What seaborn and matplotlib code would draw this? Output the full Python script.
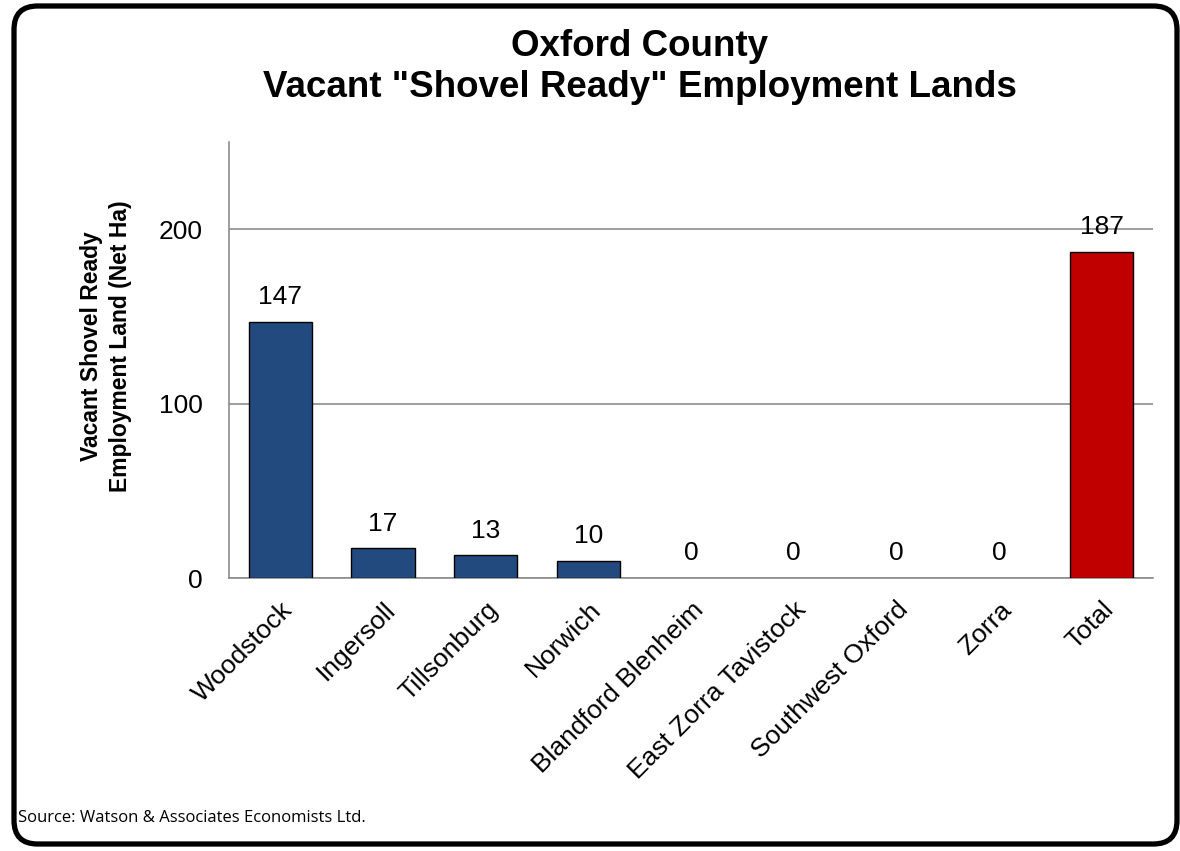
import matplotlib
matplotlib.use("Agg")
import matplotlib.pyplot as plt
from matplotlib.patches import FancyBboxPatch
import seaborn as sns
import pandas as pd

categories = ["Woodstock", "Ingersoll", "Tillsonburg", "Norwich", "Blandford Blenheim",
              "East Zorra Tavistock", "Southwest Oxford", "Zorra", "Total"]
values = [147, 17, 13, 10, 0, 0, 0, 0, 187]
bar_colors = ["#234A7E"] * 8 + ["#C00000"]
y_ticks = [0, 100, 200]

sns.set_theme(style="white")
plt.rcParams["font.family"] = ["Liberation Sans", "DejaVu Sans"]
plt.rcParams["text.color"] = "black"
plt.rcParams["xtick.color"] = "black"
plt.rcParams["ytick.color"] = "black"

df = pd.DataFrame({"area": categories, "ha": values})

fig = plt.figure(figsize=(11.8, 8.51), dpi=100)
ax = fig.add_axes([229 / 1180, 1 - 578 / 851, (1153 - 229) / 1180, (578 - 142) / 851])

sns.barplot(data=df, x="area", y="ha", hue="area", palette=bar_colors, legend=False,
            saturation=1, width=0.62, edgecolor="black", linewidth=1.0, ax=ax, zorder=3)

# bars with no land carry no visible outline
for patch in ax.patches:
    if patch.get_height() == 0:
        patch.set_linewidth(0)

ax.set_ylim(0, 250)
ax.set_xlim(-0.5, len(categories) - 0.5)
ax.set_yticks(y_ticks)
ax.set_yticklabels([str(t) for t in y_ticks], fontsize=19)
ax.yaxis.grid(True, color="#8C8C8C", linewidth=1.2, zorder=0)
ax.set_axisbelow(True)

# category boundary ticks on the x axis
ax.set_xticks([i - 0.5 for i in range(len(categories) + 1)], minor=True)
ax.tick_params(axis="x", which="minor", length=7, width=1.2, color="#8C8C8C", direction="out")
ax.tick_params(axis="x", which="major", length=0, pad=14)
ax.tick_params(axis="y", which="major", length=7, width=1.2, color="#8C8C8C", direction="out", pad=12)
ax.set_xticks(range(len(categories)))
ax.set_xticklabels(categories, rotation=45, ha="right", va="top", rotation_mode="anchor", fontsize=19)

for side in ["top", "right"]:
    ax.spines[side].set_visible(False)
for side in ["left", "bottom"]:
    ax.spines[side].set_color("#8C8C8C")
    ax.spines[side].set_linewidth(1.2)

for i, v in enumerate(values):
    ax.annotate(f"{v}", xy=(i, v), xytext=(0, 9), textcoords="offset points",
                ha="center", va="bottom", fontsize=19, color="black", zorder=4)

ax.set_xlabel("")
ax.set_ylabel("")
fig.text(106 / 1180, 1 - 346 / 851, "Vacant Shovel Ready\nEmployment Land (Net Ha)",
         rotation=90, ha="center", va="center", fontsize=16.5, fontweight="bold",
         linespacing=1.3)

fig.text(640 / 1180, 1 - 67 / 851, 'Oxford County\nVacant "Shovel Ready" Employment Lands',
         ha="center", va="center", fontsize=26.5, fontweight="bold", linespacing=1.25)

fig.text(18 / 1180, 1 - 818 / 851, "Source: Watson & Associates Economists Ltd.",
         ha="left", va="center", fontsize=12, family=["Open Sans", "DejaVu Sans"])

frame = FancyBboxPatch((14 / 1180, 7 / 851), 1163 / 1180, 838 / 851,
                       boxstyle="round,pad=0,rounding_size=0.02",
                       transform=fig.transFigure, fill=False, edgecolor="black",
                       linewidth=3.8, mutation_aspect=1180 / 851)
fig.patches.append(frame)

fig.savefig("out.png", dpi=100, facecolor="white")
